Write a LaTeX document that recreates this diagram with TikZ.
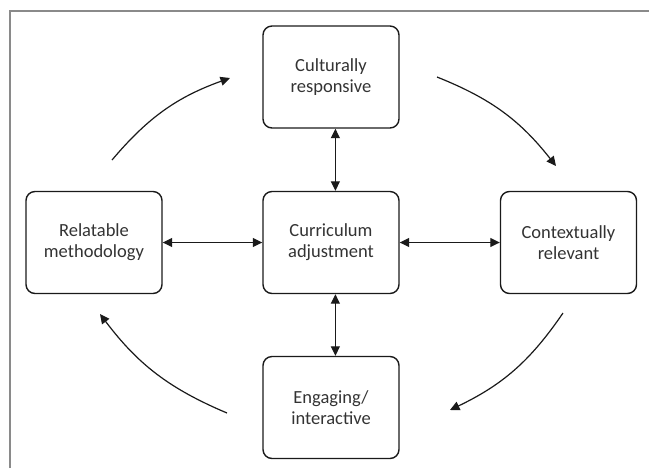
\documentclass[tikz,border=0pt]{standalone}
\usepackage{fontspec}
\setmainfont{Carlito}
\usetikzlibrary{arrows.meta}
\definecolor{frame}{HTML}{8A8A8A}
\definecolor{txt}{HTML}{333333}
\definecolor{edge}{HTML}{1A1A1A}
\begin{document}
\begin{tikzpicture}[x=0.5pt,y=-0.5pt,
  box/.style={draw=edge,line width=0.7pt,rounded corners=4.5pt,
    minimum width=68pt,minimum height=51pt,inner sep=0pt,align=center,
    text=txt,font=\fontsize{9.25pt}{10.6pt}\selectfont},
  link/.style={draw=edge,line width=0.6pt,{Triangle[length=4.75pt,width=4.5pt]}-{Triangle[length=4.75pt,width=4.5pt]}},
  flow/.style={draw=edge,line width=0.6pt,-{Triangle[length=4.75pt,width=4.5pt]}}]
\useasboundingbox (0,0) rectangle (649,468);
\draw[frame,line width=0.75pt] (10,468) -- (10,11) -- (649,11);
\node[box] (top) at (331,77) {Culturally\\responsive};
\node[box] (mid) at (331,242.5) {Curriculum\\adjustment};
\node[box] (lft) at (94,242.5) {Relatable\\methodology};
\node[box] (rgt) at (568.5,242.5) {Contextually\\relevant};
\node[box] (bot) at (331,407.5) {Engaging/\\interactive};
\draw[link] ([xshift=2.2pt]top.south) -- ([xshift=2.2pt]mid.north);
\draw[link] ([xshift=2.2pt]mid.south) -- ([xshift=2.2pt]bot.north);
\draw[link] (lft.east) -- (mid.west);
\draw[link] (mid.east) -- (rgt.west);
\coordinate (a1) at (112,160); \coordinate (b1) at (230,78);
\coordinate (a2) at (437,77);  \coordinate (b2) at (556,166);
\coordinate (a3) at (563,313); \coordinate (b3) at (450,410);
\coordinate (a4) at (227,413); \coordinate (b4) at (100,314);
\draw[flow] (a1) to[bend left=15] (b1);
\draw[flow] (a2) to[bend left=15] (b2);
\draw[flow] (a3) to[bend left=15] (b3);
\draw[flow] (a4) to[bend left=15] (b4);
\end{tikzpicture}
\end{document}
